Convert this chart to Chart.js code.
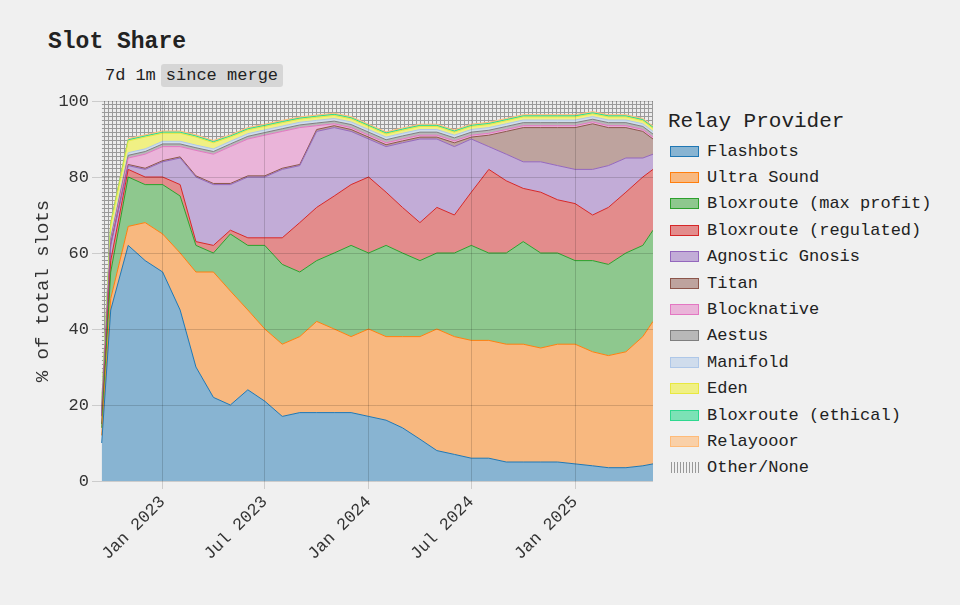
<!DOCTYPE html>
<html>
<head>
<meta charset="utf-8">
<script src="https://cdn.jsdelivr.net/npm/chart.js@4"></script>
<style>
  body { margin: 0; background: #f0f0f0; width: 960px; height: 605px; overflow: hidden; font-family: "Liberation Mono", monospace; color: #222; }
  #title { position: absolute; left: 48px; top: 29px; font-size: 23px; font-weight: bold; }
  #btns { position: absolute; left: 100px; top: 64px; font-size: 17px; }
  #btns span { display: inline-block; padding: 2px 5px; }
  #btns .on { background: #d6d6d6; border-radius: 3px; }
  #wrap { position: absolute; left: 0; top: 0; width: 660px; height: 605px; }
  #legend { position: absolute; left: 668px; top: 110px; }
  #legend .t { font-size: 21px; margin-bottom: 5px; }
  #legend .i { height: 26.4px; font-size: 17px; display: flex; align-items: center; }
  #legend .b { width: 27px; height: 9px; margin: 0 8px 0 2px; border: 1px solid; }
</style>
</head>
<body>
<div id="title">Slot Share</div>
<div id="btns"><span>7d</span><span>1m</span><span class="on">since merge</span></div>
<div id="wrap"><canvas id="c"></canvas></div>
<div id="legend"></div>
<script>
const dates = ["2022-09-15","2022-10-01","2022-11-01","2022-12-01",
  "2023-01-01","2023-02-01","2023-03-01","2023-04-01","2023-05-01","2023-06-01","2023-07-01","2023-08-01","2023-09-01","2023-10-01","2023-11-01","2023-12-01",
  "2024-01-01","2024-02-01","2024-03-01","2024-04-01","2024-05-01","2024-06-01","2024-07-01","2024-08-01","2024-09-01","2024-10-01","2024-11-01","2024-12-01",
  "2025-01-01","2025-02-01","2025-03-01","2025-04-01","2025-05-01","2025-05-19"];
const tickDates = ["2023-01-01","2023-07-01","2024-01-01","2024-07-01","2025-01-01"];
const tickLabels = ["Jan 2023","Jul 2023","Jan 2024","Jul 2024","Jan 2025"];

// cumulative top edge of each layer, % of total slots
const flashbots = [10,45,62,58, 55,45,30,22,20,24,21,17,18,18,18,18, 17,16,14,11,8,7,6,6,5,5,5,5, 4.5,4,3.5,3.5,4,4.5];
const ultraSound = [12,48,67,68, 65,60,55,55,50,45,40,36,38,42,40,38, 40,38,38,38,40,38,37,37,36,36,35,36, 36,34,33,34,38,42];
const bxMax = [14,55,80,78, 78,75,62,60,65,62,62,57,55,58,60,62, 60,62,60,58,60,60,62,60,60,63,60,60, 58,58,57,60,62,66];
const bxReg = [15,58,82,80, 80,78,63,62,66,64,64,64,68,72,75,78, 80,76,72,68,72,70,76,82,79,77,76,74, 73,70,72,76,80,82];
const agnostic = [17,62,83,82, 84,85,80,78,78,80,80,82,83,92,93,92, 90,88,89,90,90,88,90,88,86,84,84,83, 82,82,83,85,85,86];
const titan = [17.2,62.3,83.3,82.3, 84.3,85.3,80.3,78.3,78.3,80.3,80.3,82.3,83.3,92.5,93.5,92.5, 90.5,88.5,89.5,90.5,90.5,89,90.5,91,92,93,93,93, 93,94,93,93,92,90];
const blocknative = [18,63,85,86, 88,88,87,86,88,90,91,92,93,93.5,94,93, 91,89,90,91,91,89.5,91,91.5,92.5,93.5,93.5,93.5, 93.5,94.5,93.5,93.5,92.5,90.5];
const aestus = [18.5,63.7,85.7,86.7, 88.7,88.7,87.7,86.7,88.7,90.7,91.7,92.7,93.7,94.2,94.7,93.8, 91.8,89.8,90.8,91.8,91.8,90.3,91.8,92.3,93.3,94.3,94.3,94.3, 94.3,95.2,94.3,94.3,93.3,91.3];
const manifold = [19,64.4,86.4,87.4, 89.4,89.4,88.4,87.4,89.4,91.4,92.4,93.4,94.4,94.9,95.4,94.5, 92.5,90.5,91.5,92.5,92.5,91,92.5,93,94,95,95,95, 95,95.9,95,95,94,92];
const eden = [20,67.5,89.5,90.5, 91.5,91.5,90.5,89,90.5,92.4,93.3,94.3,95.2,95.7,96.2,95.3, 93.3,91.3,92.3,93.3,93.3,91.8,93.3,93.8,94.8,95.8,95.8,95.8, 95.8,96.6,95.8,95.8,94.8,92.8];
const bxEthical = [20.3,67.8,89.8,90.8, 91.8,91.8,90.8,89.3,90.8,92.7,93.6,94.6,95.5,96,96.5,95.6, 93.6,91.6,92.6,93.6,93.6,92.1,93.6,94.1,95.1,96.1,96.1,96.1, 96.1,96.9,96.1,96.1,95.1,93.1];
const relayooor = [20.6,68.1,90.1,91.1, 92.1,92.1,91.1,89.6,91.1,93,93.9,94.9,95.8,96.3,96.8,95.9, 93.9,91.9,92.9,93.9,93.9,92.4,93.9,94.4,95.4,96.4,96.4,96.4, 96.4,97.2,96.4,96.4,95.4,93.4];
const other = dates.map(() => 100);

const day0 = Date.parse("2022-09-15");
const toDay = s => (Date.parse(s) - day0) / 86400000;
const xs = dates.map(toDay);
const tickXs = tickDates.map(toDay);

// hatch for Other/None
const pc = document.createElement("canvas");
pc.width = 4; pc.height = 4;
const px = pc.getContext("2d");
px.fillStyle = "#ececec"; px.fillRect(0, 0, 4, 4);
px.fillStyle = "#9a9a9a"; px.fillRect(0, 0, 4, 1); px.fillRect(0, 0, 1, 4);
const hatch = px.createPattern(pc, "repeat");

const series = [
  ["Flashbots", flashbots, "rgba(31,119,180,0.5)", "#1f77b4"],
  ["Ultra Sound", ultraSound, "rgba(255,127,14,0.5)", "#ff7f0e"],
  ["Bloxroute (max profit)", bxMax, "rgba(44,160,44,0.5)", "#2ca02c"],
  ["Bloxroute (regulated)", bxReg, "rgba(214,39,40,0.5)", "#d62728"],
  ["Agnostic Gnosis", agnostic, "rgba(148,103,189,0.5)", "#9467bd"],
  ["Titan", titan, "rgba(140,86,75,0.5)", "#8c564b"],
  ["Blocknative", blocknative, "rgba(227,119,194,0.5)", "#e377c2"],
  ["Aestus", aestus, "rgba(127,127,127,0.5)", "#7f7f7f"],
  ["Manifold", manifold, "rgba(174,199,232,0.5)", "#aec7e8"],
  ["Eden", eden, "rgba(240,240,60,0.6)", "#e8e840"],
  ["Bloxroute (ethical)", bxEthical, "rgba(46,216,143,0.6)", "#2ed88f"],
  ["Relayooor", relayooor, "rgba(255,187,120,0.6)", "#ffbb78"],
  ["Other/None", other, hatch, "#b0b0b0"]
];

const datasets = series.map((s, i) => ({
  label: s[0],
  data: s[1].map((v, j) => ({ x: xs[j], y: v })),
  backgroundColor: s[2],
  borderColor: s[3],
  borderWidth: i === 12 ? 0 : 1,
  pointRadius: 0,
  tension: 0,
  fill: i === 0 ? "origin" : "-1"
}));

// html legend
const lg = document.getElementById("legend");
lg.innerHTML = '<div class="t">Relay Provider</div>' + series.map((s, i) =>
  `<div class="i"><span class="b" id="b${i}" style="background:${i === 12 ? "transparent" : s[2]};border-color:${i === 12 ? "transparent" : s[3]}"></span>${s[0]}</div>`).join("");
document.getElementById("b12").style.backgroundImage = "repeating-linear-gradient(90deg,#999 0 1px,transparent 1px 3px)";

const font = { family: "Liberation Mono", size: 17 };
new Chart(document.getElementById("c"), {
  type: "line",
  data: { datasets },
  options: {
    responsive: true,
    maintainAspectRatio: false,
    animation: false,
    layout: { padding: { left: 28, right: 7, top: 101, bottom: 0 } },
    plugins: { legend: { display: false }, tooltip: { enabled: false } },
    scales: {
      x: {
        type: "linear",
        min: -3, max: 977,
        afterBuildTicks: ax => { ax.ticks = tickXs.map(v => ({ value: v })); },
        afterFit: ax => { ax.height = 124; },
        ticks: {
          callback: v => tickLabels[tickXs.indexOf(v)],
          maxRotation: 45, minRotation: 45, color: "#333", font
        },
        grid: { color: "rgba(0,0,0,0.15)", z: 1 },
        border: { display: false }
      },
      y: {
        min: 0, max: 100,
        afterFit: ax => { ax.width = 72; },
        ticks: { stepSize: 20, color: "#333", font },
        grid: { color: "rgba(0,0,0,0.15)", z: 1 },
        border: { display: false },
        title: { display: true, text: "% of total slots", color: "#333", font: { family: "Liberation Mono", size: 19 } }
      }
    }
  }
});
</script>
</body>
</html>
